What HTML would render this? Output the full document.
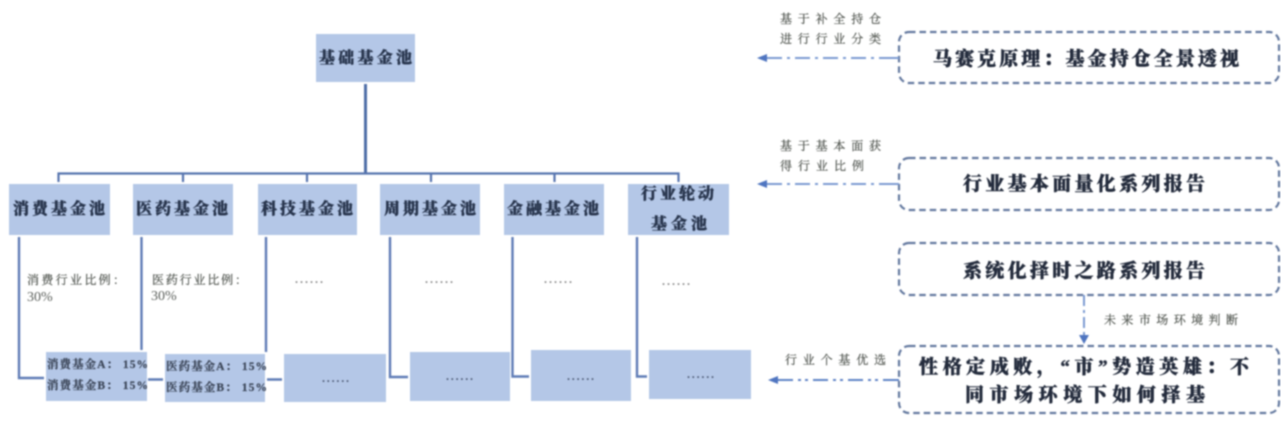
<!DOCTYPE html>
<html><head><meta charset="utf-8">
<style>
html,body{margin:0;padding:0;background:#fff;width:1281px;height:423px;overflow:hidden}
svg{display:block;filter:blur(0.85px)}
text{font-family:"Liberation Serif","Noto Serif CJK SC",serif;text-anchor:start}
.h{font-size:16px;font-weight:900;fill:#27344c;stroke:#27344c;stroke-width:.35}
.m{font-size:19px;font-weight:900;fill:#232b3c;stroke:#232b3c;stroke-width:.4}
.s{font-size:12px;fill:#50554f;stroke:#50554f;stroke-width:.2}
.p{font-size:14px;fill:#5b5f5b}
.l{font-size:11.500px;font-weight:700;fill:#3a4456;stroke:#3a4456;stroke-width:.2}
.d{font-size:12px;font-weight:700;fill:#888}
.dd{font-size:12px;font-weight:700;fill:#4d5a75}
.b{fill:#b4c7e7}
.c{stroke:#5f7cb6;stroke-width:2.400;fill:none}
.r{fill:none;stroke:#64799f;stroke-width:2.200;stroke-dasharray:6.500 4}
.a{stroke:#7c9bd2;stroke-width:2;stroke-dasharray:15 5 3 5;fill:none}
</style></head><body>
<svg width="1281" height="423" viewBox="0 0 1281 423" xmlns="http://www.w3.org/2000/svg">
<!-- tree connectors -->
<path d="M365.500 84V173" stroke="#4f6ea8" stroke-width="3" fill="none"/>
<path d="M58.500 182V173.500H678.500V182M183 173.500V182M307 173.500V182M431 173.500V182M554.500 173.500V182" stroke="#5674ae" stroke-width="2.200" fill="none"/>
<!-- top box -->
<rect class="b" x="316" y="34" width="99" height="48"/>
<text class="h" x="319" y="63" textLength="93">基础基金池</text>
<!-- level two boxes -->
<rect class="b" x="9" y="184" width="101" height="51"/>
<rect class="b" x="133" y="184" width="100" height="51"/>
<rect class="b" x="258" y="184" width="99" height="51"/>
<rect class="b" x="380" y="184" width="100" height="51"/>
<rect class="b" x="504" y="184" width="100" height="51"/>
<rect class="b" x="628" y="184" width="101" height="51"/>
<text class="h" x="13" y="214" textLength="92">消费基金池</text>
<text class="h" x="136" y="214" textLength="92">医药基金池</text>
<text class="h" x="261" y="214" textLength="92">科技基金池</text>
<text class="h" x="384" y="214" textLength="92">周期基金池</text>
<text class="h" x="507" y="214" textLength="92">金融基金池</text>
<text class="h" x="641" y="199" textLength="73">行业轮动</text>
<text class="h" x="651" y="229" textLength="56">基金池</text>
<!-- verticals -->
<path class="c" d="M19 237V378H44"/>
<path class="c" d="M141.500 237V350"/>
<path class="c" d="M266 237V352"/>
<path class="c" d="M390 237V377H408"/>
<path class="c" d="M512.500 237V376.500H529"/>
<path class="c" d="M637 237V376.500H647"/>
<path class="c" d="M148 379.500H163M267 379.500H282"/>
<!-- mid labels -->
<text class="s" x="27" y="284" textLength="98">消费行业比例：</text>
<text class="p" x="27" y="301">30%</text>
<text class="s" x="152" y="284" textLength="95">医药行业比例：</text>
<text class="p" x="151" y="300">30%</text>
<text class="d" x="295" y="283" textLength="28">......</text>
<text class="d" x="425" y="283" textLength="28">......</text>
<text class="d" x="544" y="283" textLength="28">......</text>
<text class="d" x="662" y="285" textLength="28">......</text>
<!-- bottom boxes -->
<rect class="b" x="46" y="352" width="101" height="49"/>
<rect class="b" x="165" y="354" width="100" height="48"/>
<rect class="b" x="284" y="354" width="102" height="48"/>
<rect class="b" x="410" y="352" width="100" height="49"/>
<rect class="b" x="531" y="350" width="100" height="51"/>
<rect class="b" x="649" y="350" width="102" height="49"/>
<text class="l" x="47" y="368" textLength="101">消费基金A： 15%</text>
<text class="l" x="47" y="389" textLength="101">消费基金B： 15%</text>
<text class="l" x="166" y="370" textLength="101">医药基金A： 15%</text>
<text class="l" x="166" y="391" textLength="101">医药基金B： 15%</text>
<text class="dd" x="322" y="382" textLength="27">......</text>
<text class="dd" x="446" y="380" textLength="27">......</text>
<text class="dd" x="567" y="380" textLength="27">......</text>
<text class="dd" x="687" y="378" textLength="27">......</text>
<!-- right dashed boxes -->
<rect class="r" x="899" y="32" width="380" height="51" rx="10"/>
<rect class="r" x="899" y="158" width="380" height="52" rx="10"/>
<rect class="r" x="899" y="243" width="380" height="52" rx="10"/>
<rect class="r" x="899" y="346" width="380" height="67" rx="10"/>
<text class="m" x="933" y="65" textLength="306">马赛克原理：基金持仓全景透视</text>
<text class="m" x="963" y="190" textLength="242">行业基本面量化系列报告</text>
<text class="m" x="963" y="277" textLength="242">系统化择时之路系列报告</text>
<text class="m" x="919" y="373" textLength="330">性格定成败，“市”势造英雄：不</text>
<text class="m" x="965" y="401" textLength="240">同市场环境下如何择基</text>
<!-- arrows -->
<path class="a" d="M767 58H899"/>
<path d="M885 58H899" stroke="#7c9bd2" stroke-width="2"/>
<path d="M757 58L767 54V62Z" fill="#4f75c0"/>
<path class="a" d="M767 184H899"/>
<path d="M885 184H899" stroke="#7c9bd2" stroke-width="2"/>
<path d="M757 184L767 180V188Z" fill="#4f75c0"/>
<path d="M778 380H899" stroke="#5f83c6" stroke-width="2" stroke-dasharray="15 5 3 4 3 5" fill="none"/>
<path d="M885 380H899" stroke="#5f83c6" stroke-width="2"/>
<path d="M768 380L778 376V384Z" fill="#4f75c0"/>
<path d="M1084 295V336" stroke="#7c9bd2" stroke-width="2" stroke-dasharray="11 4 3 4" fill="none"/>
<path d="M1084 344L1079 335H1089Z" fill="#4f75c0"/>
<!-- arrow labels -->
<text class="s" x="780" y="23" textLength="101">基于补全持仓</text>
<text class="s" x="780" y="43" textLength="101">进行行业分类</text>
<text class="s" x="780" y="150" textLength="101">基于基本面获</text>
<text class="s" x="780" y="170" textLength="84">得行业比例</text>
<text class="s" x="1104" y="324" textLength="134">未来市场环境判断</text>
<text class="s" x="785" y="364" textLength="101">行业个基优选</text>
</svg>
</body></html>
